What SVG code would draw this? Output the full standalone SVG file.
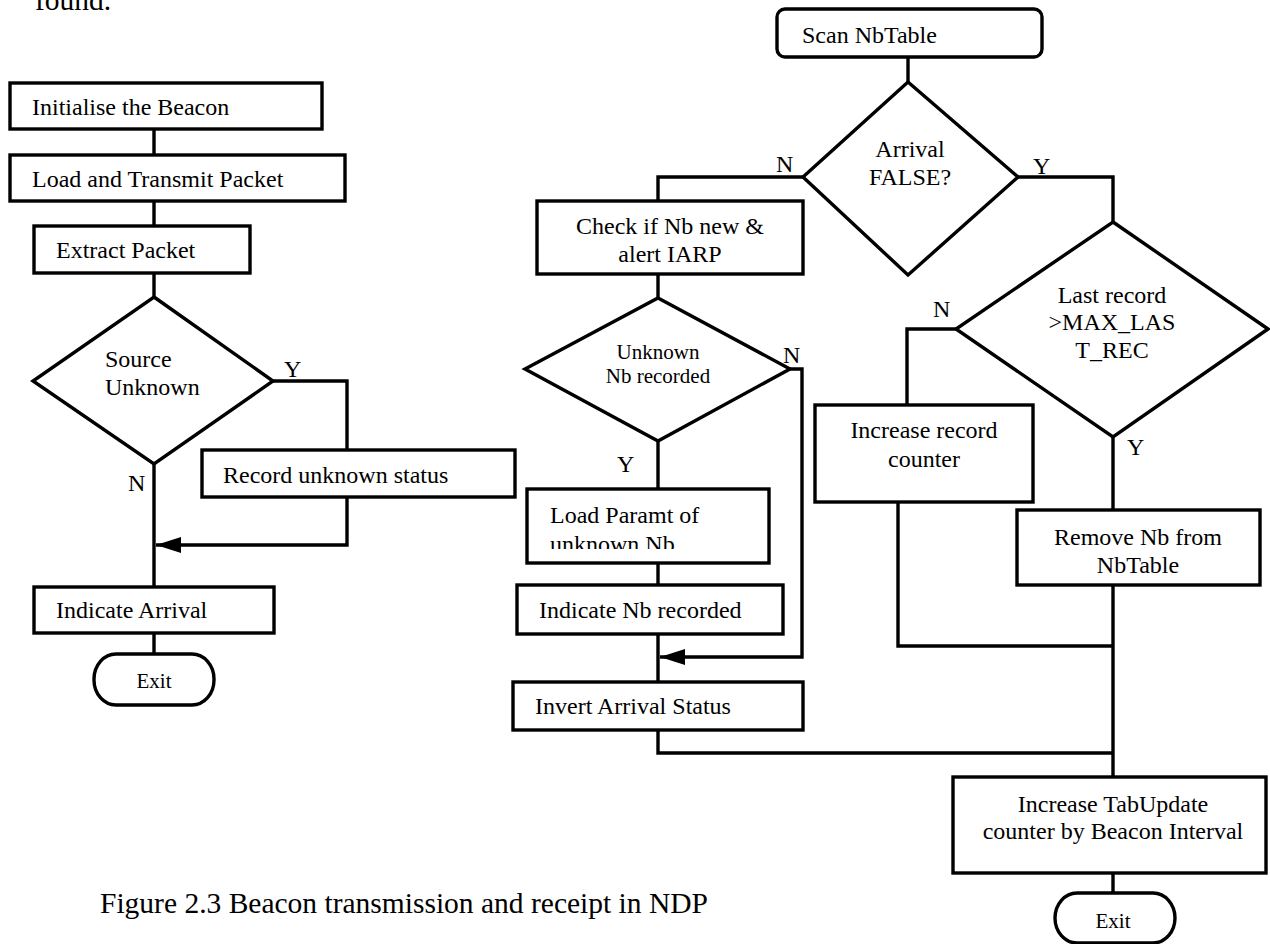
<svg xmlns="http://www.w3.org/2000/svg" width="1270" height="944" viewBox="0 0 1270 944">
  <defs>
    <style>
      .box { fill: #fff; stroke: #000; stroke-width: 3.4; }
      .wire { fill: none; stroke: #000; stroke-width: 3.4; }
      text { font-family: "Liberation Serif", "Times New Roman", serif; fill: #000; }
      .t { font-size: 24px; }
      .s { font-size: 21px; }
      .c { text-anchor: middle; }
      .cap { font-size: 29.5px; }
    </style>
    <marker id="arrow" viewBox="0 0 25 16" refX="25" refY="8" markerWidth="25" markerHeight="16" markerUnits="userSpaceOnUse" orient="auto">
      <path d="M0,0 L25,8 L0,16 Z" fill="#000"/>
    </marker>
    <clipPath id="clipParamt">
      <rect x="527" y="489" width="242" height="60"/>
    </clipPath>
  </defs>
  <rect width="1270" height="944" fill="#fff"/>

  <!-- tail of the preceding paragraph -->
  <text class="cap" x="35" y="10">found.</text>

  <!-- connectors -->
  <g id="connectors">
    <!-- transmit side -->
    <path class="wire" d="M154,130 V155 M154,201 V226 M154,273 V297 M154,464 V587 M154,633 V654"/>
    <path class="wire" d="M273,381 H347 V450"/>
    <path class="wire" d="M347,497 V545 H156" marker-end="url(#arrow)"/>
    <!-- receive side -->
    <path class="wire" d="M908,57 V82"/>
    <path class="wire" d="M803,177 H658 V201"/>
    <path class="wire" d="M658,274 V298 M658,441 V489 M658,563 V585 M658,634 V682"/>
    <path class="wire" d="M790,369 H802 V657 H660" marker-end="url(#arrow)"/>
    <path class="wire" d="M658,730 V753 H1113"/>
    <path class="wire" d="M1018,177 H1113 V222"/>
    <path class="wire" d="M956,329 H907 V405"/>
    <path class="wire" d="M898,502 V646 H1113"/>
    <path class="wire" d="M1113,437 V510 M1113,585 V777 M1113,873 V893"/>
  </g>

  <!-- branch labels -->
  <g id="labels" class="t">
    <text x="284" y="377">Y</text>
    <text x="128" y="491">N</text>
    <text x="776" y="172">N</text>
    <text x="1033" y="174">Y</text>
    <text x="783" y="363">N</text>
    <text x="617" y="472">Y</text>
    <text x="933" y="317">N</text>
    <text x="1127" y="455">Y</text>
  </g>

  <!-- transmit side nodes -->
  <g id="init">
    <rect class="box" x="10" y="83" width="312" height="46"/>
    <text class="t" x="32" y="115">Initialise the Beacon</text>
  </g>
  <g id="load">
    <rect class="box" x="10" y="155" width="335" height="46"/>
    <text class="t" x="32" y="187">Load and Transmit Packet</text>
  </g>
  <g id="extract">
    <rect class="box" x="34" y="226" width="216" height="47"/>
    <text class="t" x="56" y="258">Extract Packet</text>
  </g>
  <g id="source-unknown">
    <polygon class="box" points="154,297 273,381 154,464 33,381"/>
    <text class="t" x="105" y="367">Source</text>
    <text class="t" x="105" y="395">Unknown</text>
  </g>
  <g id="record-unknown">
    <rect class="box" x="202" y="450" width="313" height="47"/>
    <text class="t" x="223" y="483">Record unknown status</text>
  </g>
  <g id="indicate-arrival">
    <rect class="box" x="34" y="587" width="240" height="46"/>
    <text class="t" x="56" y="618">Indicate Arrival</text>
  </g>
  <g id="exit-1">
    <rect class="box" x="94" y="654" width="120" height="51" rx="22" ry="25"/>
    <text class="s c" x="154" y="688">Exit</text>
  </g>

  <!-- receive side nodes -->
  <g id="scan">
    <rect class="box" x="777" y="9" width="265" height="48" rx="8"/>
    <text class="t" x="802" y="43">Scan NbTable</text>
  </g>
  <g id="arrival-false">
    <polygon class="box" points="908,82 1018,177 908,275 803,177"/>
    <text class="t c" x="910" y="157">Arrival</text>
    <text class="t c" x="910" y="185">FALSE?</text>
  </g>
  <g id="check-new">
    <rect class="box" x="537" y="201" width="266" height="73"/>
    <text class="t c" x="670" y="234">Check if Nb new &amp;</text>
    <text class="t c" x="670" y="262">alert IARP</text>
  </g>
  <g id="unknown-recorded">
    <polygon class="box" points="658,298 790,369 658,441 525,369"/>
    <text class="s c" x="658" y="359">Unknown</text>
    <text class="s c" x="658" y="383">Nb recorded</text>
  </g>
  <g id="load-paramt">
    <rect class="box" x="527" y="489" width="242" height="74"/>
    <g clip-path="url(#clipParamt)">
      <text class="t" x="550" y="523">Load Paramt of</text>
      <text class="t" x="550" y="552">unknown Nb</text>
    </g>
  </g>
  <g id="indicate-recorded">
    <rect class="box" x="517" y="585" width="266" height="49"/>
    <text class="t" x="539" y="618">Indicate Nb recorded</text>
  </g>
  <g id="invert-arrival">
    <rect class="box" x="513" y="682" width="290" height="48"/>
    <text class="t" x="535" y="714">Invert Arrival Status</text>
  </g>
  <g id="last-record">
    <polygon class="box" points="1113,222 1268,329 1113,437 956,329"/>
    <text class="t c" x="1112" y="303">Last record</text>
    <text class="t c" x="1112" y="330">&gt;MAX_LAS</text>
    <text class="t c" x="1112" y="358">T_REC</text>
  </g>
  <g id="increase-record">
    <rect class="box" x="815" y="405" width="218" height="97"/>
    <text class="t c" x="924" y="438">Increase record</text>
    <text class="t c" x="924" y="467">counter</text>
  </g>
  <g id="remove-nb">
    <rect class="box" x="1017" y="510" width="243" height="75"/>
    <text class="t c" x="1138" y="545">Remove Nb from</text>
    <text class="t c" x="1138" y="573">NbTable</text>
  </g>
  <g id="tab-update">
    <rect class="box" x="953" y="777" width="313" height="96"/>
    <text class="t c" x="1113" y="812">Increase TabUpdate</text>
    <text class="t c" x="1113" y="839">counter by Beacon Interval</text>
  </g>
  <g id="exit-2">
    <rect class="box" x="1055" y="893" width="120" height="50" rx="22" ry="25"/>
    <text class="s c" x="1113" y="928">Exit</text>
  </g>

  <!-- figure caption -->
  <text class="cap" x="100" y="913">Figure 2.3 Beacon transmission and receipt in NDP</text>
</svg>
